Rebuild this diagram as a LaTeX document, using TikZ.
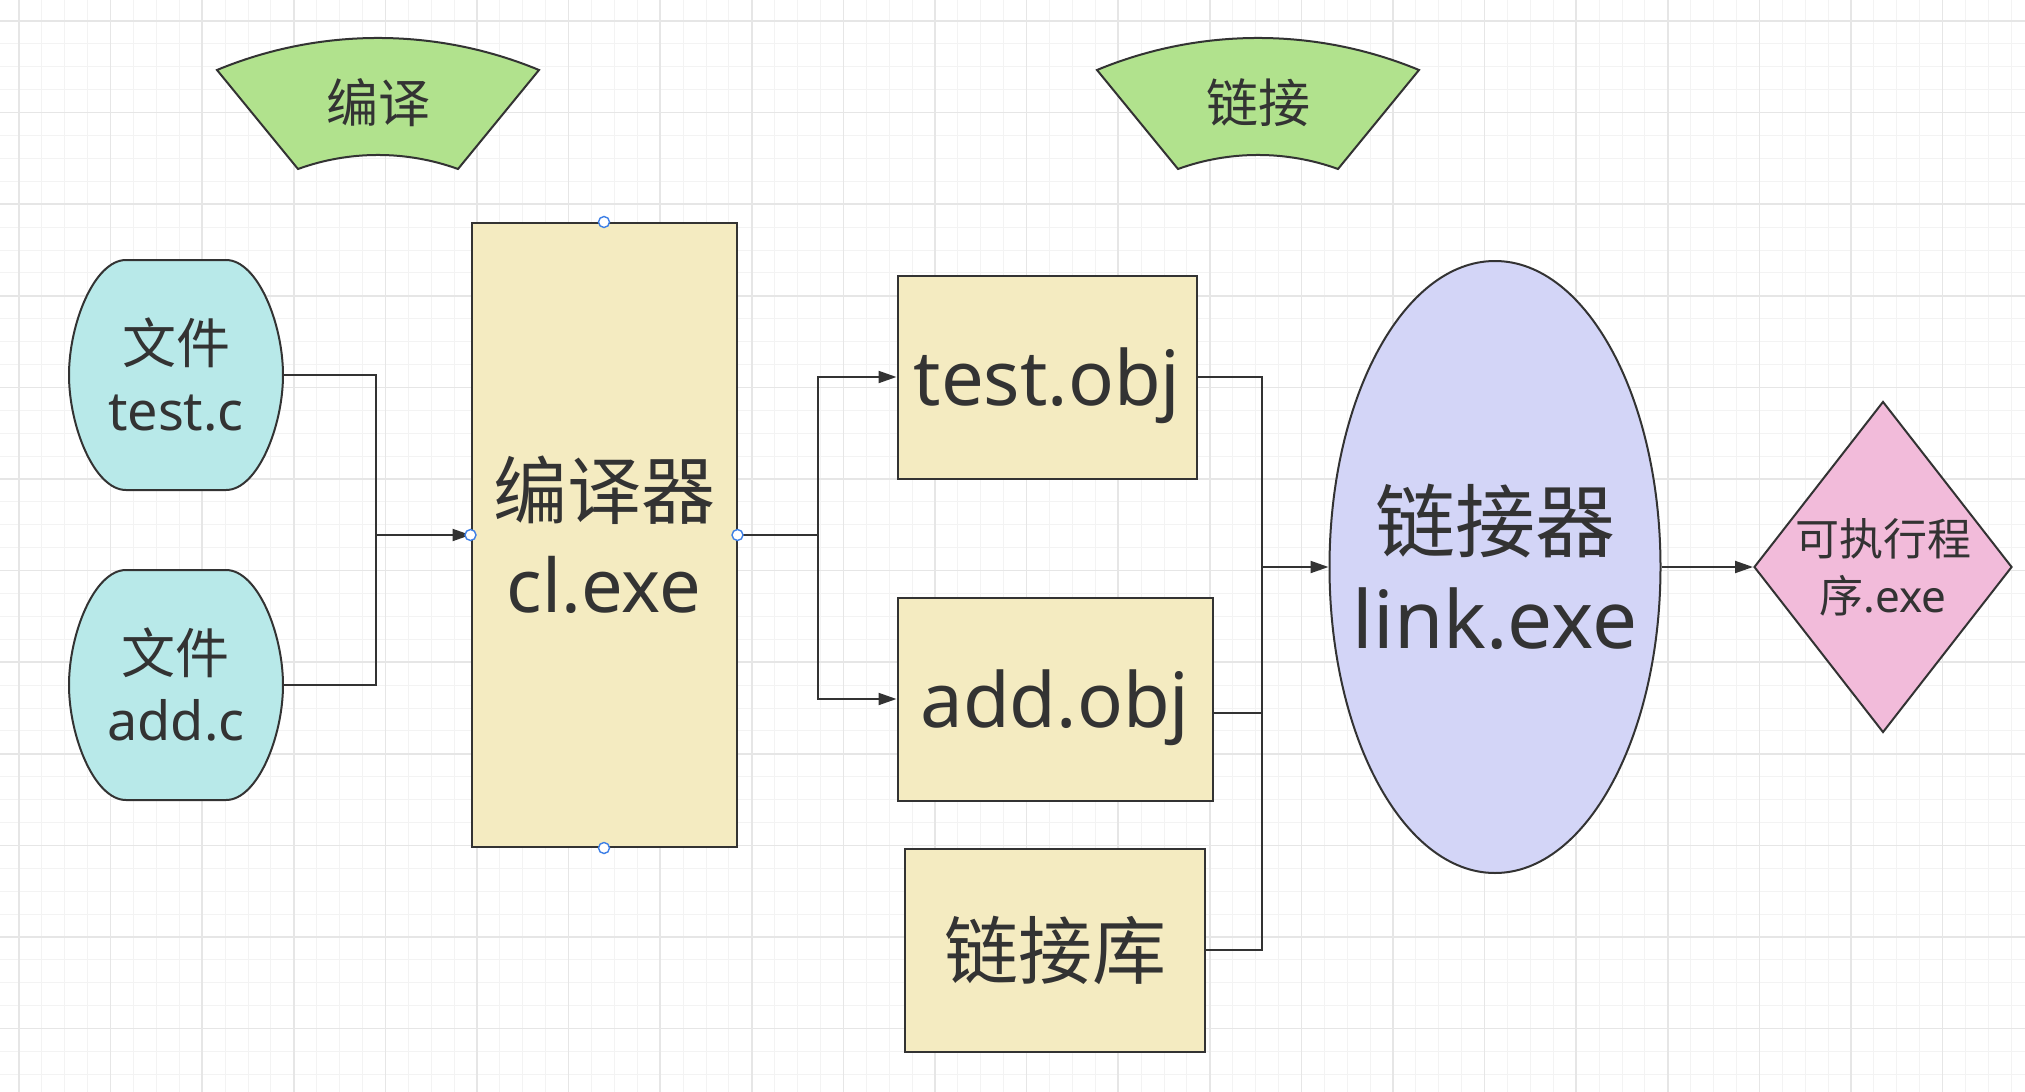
\documentclass[tikz,border=0pt]{standalone}
\usepackage{fontspec}
\setmainfont{Noto Sans}
\newfontfamily\cjk{Noto Sans CJK SC}
\usepackage{xcolor}
\usetikzlibrary{arrows.meta,positioning,shapes.geometric,calc}

\definecolor{inkgray}{HTML}{333333}
\definecolor{srccyan}{HTML}{B8E9E9}
\definecolor{boxsand}{HTML}{F4EBC1}
\definecolor{fangreen}{HTML}{B1E28D}
\definecolor{linklilac}{HTML}{D3D5F7}
\definecolor{exepink}{HTML}{F2BBDA}
\definecolor{gridminor}{HTML}{F3F3F3}
\definecolor{gridmajor}{HTML}{E6E6E6}
\definecolor{handleblue}{HTML}{3D7FE6}

\begin{document}
\begin{tikzpicture}[
  x=0.5pt, y=-0.5pt,
  every node/.style={text=inkgray},
  gridthin/.style={draw=gridminor, line width=0.5pt},
  gridthick/.style={draw=gridmajor, line width=0.8pt},
  srcfile/.style={minimum width=107pt, minimum height=115pt, inner sep=0pt,
                  align=center, font=\fontsize{27}{33.5}\selectfont},
  sandbox/.style={draw=inkgray, line width=1pt, fill=boxsand, inner sep=0pt,
                  minimum height=101.5pt, align=center,
                  font=\fontsize{38}{47}\selectfont},
  linkellipse/.style={ellipse, draw=inkgray, line width=1pt, fill=linklilac,
                      minimum width=165.5pt, minimum height=306pt, inner sep=0pt},
  exediamond/.style={diamond, draw=inkgray, line width=1pt, fill=exepink,
                     minimum width=129pt, minimum height=165.5pt, inner sep=0pt},
  fanlabel/.style={font=\cjk\fontsize{26}{30}\selectfont},
  handle/.style={circle, draw=handleblue, fill=white, line width=0.7pt,
                 minimum size=5.5pt, inner sep=0pt},
  wire/.style={draw=inkgray, line width=1pt},
  arrow/.style={wire, -{Triangle[length=9pt,width=6pt]}},
  pics/fanshape/.style={code={
    \draw[draw=inkgray, line width=1pt, fill=fangreen]
      (-161,70) .. controls (-58,27.3) and (58,27.3) .. (161,70)
      -- (80,169) .. controls (28.3,150.3) and (-28.3,150.3) .. (-80,169) -- cycle;
  }},
  pics/srcblob/.style={code={
    \draw[draw=inkgray, line width=1pt, fill=srccyan]
      (-50,-115) -- (50,-115)
      .. controls (81.5,-115) and (107,-51.5) .. (107,0)
      .. controls (107,51.5) and (81.5,115) .. (50,115)
      -- (-50,115)
      .. controls (-81.5,115) and (-107,51.5) .. (-107,0)
      .. controls (-107,-51.5) and (-81.5,-115) .. cycle;
  }}
]
% background and grid
\useasboundingbox (0,0) rectangle (2025,1092);
\fill[white] (0,0) rectangle (2025,1092);
\foreach \k in {0,...,88} \draw[gridthin] ({-3.9+22.9*\k},0) -- ++(0,1092);
\foreach \k in {0,...,47} \draw[gridthin] (0,{-1.9+22.9*\k}) -- ++(2025,0);
\foreach \k in {0,...,21} \draw[gridthick] ({19+91.6*\k},0) -- ++(0,1092);
\foreach \k in {0,...,11} \draw[gridthick] (0,{21+91.6*\k}) -- ++(2025,0);

% stage banners
\pic at (378,0) {fanshape};
\node[fanlabel] (compile) at (378,103) {编译};
\pic at (1258,0) {fanshape};
\node[fanlabel] (linkstep) at (1258,103) {链接};

% sources and compiler
\pic at (176,375) {srcblob};
\node[srcfile] (testc) at (176,375) {{\cjk 文件}\\test.c};
\pic at (176,685) {srcblob};
\node[srcfile] (addc) at (176,685) {{\cjk 文件}\\add.c};
\node[sandbox, minimum width=132.5pt, minimum height=312pt,
      font=\fontsize{37}{47}\selectfont] (cl) at (604,535) {{\cjk 编译器}\\cl.exe};

% objects and library
\node[sandbox, minimum width=149.5pt, text depth=0pt] (tobj) at (1047,377) {test.obj};
\node[sandbox, minimum width=157.5pt, text depth=0pt] (aobj) at (1055,699) {add.obj};
\node[sandbox, minimum width=150pt, below=23pt of aobj, font=\cjk\fontsize{37}{47}\selectfont] (lib) {链接库};

% linker and result
\node[linkellipse] (linker) at (1495,567) {};
\node[align=center, font=\fontsize{40}{48.5}\selectfont] (linkertext) at (linker.center) {{\cjk 链接器}\\link.exe};
\node[exediamond] (exe) at (1883,567) {};
\node[align=center, font=\fontsize{22}{28.5}\selectfont] (exetext) at (exe.center) {{\cjk 可执行程}\\{\cjk 序}.exe};

% connectors
\coordinate[left=47.5pt of cl.west] (srcjoin);
\draw[wire] (testc.east) -| (srcjoin);
\draw[wire] (addc.east) -| (srcjoin);
\draw[arrow] (srcjoin) -- (cl.west);

\coordinate[right=40pt of cl.east] (objsplit);
\draw[wire] (cl.east) -- (objsplit);
\draw[arrow] (objsplit) |- (tobj.west);
\draw[arrow] (objsplit) |- (aobj.west);

\coordinate[left=33.5pt of linker.west] (linkjoin);
\draw[wire] (tobj.east) -| (linkjoin);
\draw[wire] ([yshift=-7pt]aobj.east) -| (linkjoin);
\draw[wire] (lib.east) -| (linkjoin);
\draw[arrow] (linkjoin) -- (linker.west);
\draw[arrow] (linker.east) -- (exe.west);

% selection handles on the compiler box
\node[handle] (cln) at (cl.north) {};
\node[handle] (cls) at (cl.south) {};
\node[handle] (clw) at (cl.west) {};
\node[handle] (cle) at (cl.east) {};
\end{tikzpicture}
\end{document}
